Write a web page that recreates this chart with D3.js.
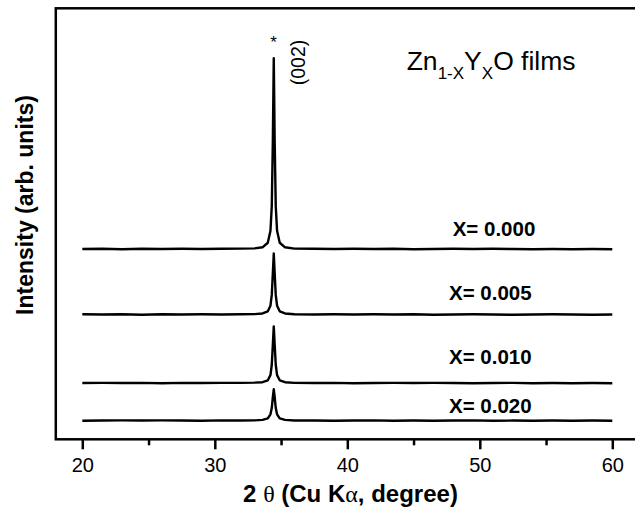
<!DOCTYPE html>
<html>
<head>
<meta charset="utf-8">
<script src="https://cdn.jsdelivr.net/npm/d3@7"></script>
<style>
  html, body { margin: 0; padding: 0; background: #fff; }
  svg { display: block; }
  text { font-family: Arial, 'Liberation Sans', sans-serif; fill: #000; }
</style>
</head>
<body>
<svg id="chart" width="635" height="510"></svg>
<script>
// 2-theta grid shared by all scans (degrees)
const twoTheta = [20, 21.5, 23, 24.5, 26, 27.5, 29, 30.5, 32, 33, 33.6, 34.0, 34.2, 34.3, 34.38, 34.45,
  34.52, 34.6, 34.7, 34.9, 35.3, 36, 37.5, 39, 40.5, 42, 43.5, 45, 46.5, 48, 49.5, 51, 52.5, 54, 55.5, 57, 58.5, 60];

const sampleLabels = ['X= 0.000', 'X= 0.005', 'X= 0.010', 'X= 0.020'];
// vertical stacking offset of each scan (arb. units)
const offsets = [44.1, 28.9, 13.0, 4.3];

const scanX000 = [0.05, 0.1, 0.0, 0.1, 0.05, 0.1, 0.05, 0.1, 0.15, 0.2, 0.45, 1.5, 4.3, 10, 25, 44.3,
  25, 10, 4.3, 1.5, 0.45, 0.15, 0.1, 0.05, 0.1, 0.05, 0.1, 0.0, 0.05, 0.1, 0.05, 0.1, 0.05, 0.0, 0.05, 0.0, 0.05, 0.0];
const scanX005 = [0.1, 0.05, 0.1, 0.0, 0.1, 0.05, 0.1, 0.05, 0.1, 0.15, 0.3, 0.8, 2.1, 4.6, 9.6, 14.2,
  9.6, 4.6, 2.1, 0.8, 0.3, 0.1, 0.05, 0.1, 0.05, 0.1, 0.05, 0.1, 0.0, 0.05, 0.1, 0.05, 0.0, 0.05, 0.1, 0.05, 0.0, 0.05];
const scanX010 = [0.05, 0.1, 0.05, 0.1, 0.0, 0.1, 0.05, 0.1, 0.1, 0.15, 0.25, 0.7, 1.9, 4.3, 8.9, 13.2,
  8.9, 4.3, 1.9, 0.7, 0.25, 0.1, 0.05, 0.1, 0.0, 0.05, 0.1, 0.05, 0.1, 0.05, 0.0, 0.05, 0.1, 0.0, 0.05, 0.0, 0.05, 0.0];
const scanX020 = [0.0, 0.05, 0.1, 0.05, 0.1, 0.05, 0.0, 0.1, 0.05, 0.1, 0.2, 0.55, 1.5, 2.95, 5.5, 7.3,
  5.5, 2.95, 1.5, 0.55, 0.2, 0.05, 0.05, 0.0, 0.05, 0.1, 0.0, 0.05, 0.0, 0.05, 0.1, 0.0, 0.05, 0.0, 0.05, 0.0, 0.05, 0.0];
const scans = [scanX000, scanX005, scanX010, scanX020];

const majorTicks = [20, 30, 40, 50, 60];
const minorTicks = [25, 35, 45, 55];
const labelPos = [[452.7, 236], [449, 300], [449, 364], [449, 413.3]];

const svg = d3.select('#chart');
const x = d3.scaleLinear().domain([18, 62]).range([55.8, 638.8]);
const y = d3.scaleLinear().domain([0, 100]).range([439.3, 8.3]);

// frame (right edge falls just off the picture)
svg.append('rect')
  .attr('x', x(18)).attr('y', y(100))
  .attr('width', x(62) - x(18)).attr('height', y(0) - y(100))
  .attr('fill', 'none').attr('stroke', '#000').attr('stroke-width', 2.5);

const xAxis = svg.append('g')
  .attr('transform', `translate(0,${y(0)})`)
  .call(d3.axisBottom(x).tickValues(majorTicks).tickSize(10).tickFormat(d3.format('d')));
xAxis.select('.domain').remove();
xAxis.selectAll('line').attr('stroke-width', 2.5);
xAxis.selectAll('text')
  .attr('y', 32.4).attr('dy', 0)
  .style('font-size', '20px')
  .style('font-family', "Arial, 'Liberation Sans', sans-serif");

const xMinor = svg.append('g')
  .attr('transform', `translate(0,${y(0)})`)
  .call(d3.axisBottom(x).tickValues(minorTicks).tickSize(6).tickFormat(''));
xMinor.select('.domain').remove();
xMinor.selectAll('line').attr('stroke-width', 2.5);

const line = d3.line()
  .x((d, i) => x(twoTheta[i]))
  .y(d => y(d));

scans.forEach((scan, k) => {
  svg.append('path')
    .datum(scan.map(v => v + offsets[k]))
    .attr('d', line)
    .attr('fill', 'none')
    .attr('stroke', '#000')
    .attr('stroke-width', 2.4)
    .attr('stroke-linejoin', 'round');
  svg.append('text')
    .attr('x', labelPos[k][0]).attr('y', labelPos[k][1])
    .style('font-size', '20.5px').style('font-weight', 'bold')
    .text(sampleLabels[k]);
});

// peak annotations
svg.append('text')
  .attr('x', 273.5).attr('y', 48)
  .attr('text-anchor', 'middle')
  .style('font-size', '17px')
  .text('*');
svg.append('text')
  .attr('transform', 'translate(305,62.5) rotate(-90)')
  .attr('text-anchor', 'middle')
  .style('font-size', '19.5px')
  .text('(002)');

// title
const title = svg.append('text')
  .attr('x', 406.7).attr('y', 70)
  .style('font-size', '26.5px');
title.append('tspan').text('Zn');
title.append('tspan').attr('dy', 9.3).style('font-size', '17px').text('1-X');
title.append('tspan').attr('dy', -9.3).text('Y');
title.append('tspan').attr('dy', 9.3).style('font-size', '17px').text('X');
title.append('tspan').attr('dy', -9.3).text('O films');

// axis titles
const xTitle = svg.append('text')
  .attr('x', 350.5).attr('y', 501.7)
  .attr('text-anchor', 'middle')
  .style('font-size', '24px').style('font-weight', 'bold');
xTitle.append('tspan').text('2 ');
xTitle.append('tspan').style('font-family', "'Liberation Serif', 'DejaVu Serif', serif").style('font-weight', 'normal').text('θ');
xTitle.append('tspan').text(' (Cu K');
xTitle.append('tspan').style('font-family', "'Liberation Serif', 'DejaVu Serif', serif").style('font-weight', 'normal').text('α');
xTitle.append('tspan').text(', degree)');

svg.append('text')
  .attr('transform', 'translate(33,205) rotate(-90)')
  .attr('text-anchor', 'middle')
  .style('font-size', '23px').style('font-weight', 'bold')
  .text('Intensity (arb. units)');
</script>
</body>
</html>
